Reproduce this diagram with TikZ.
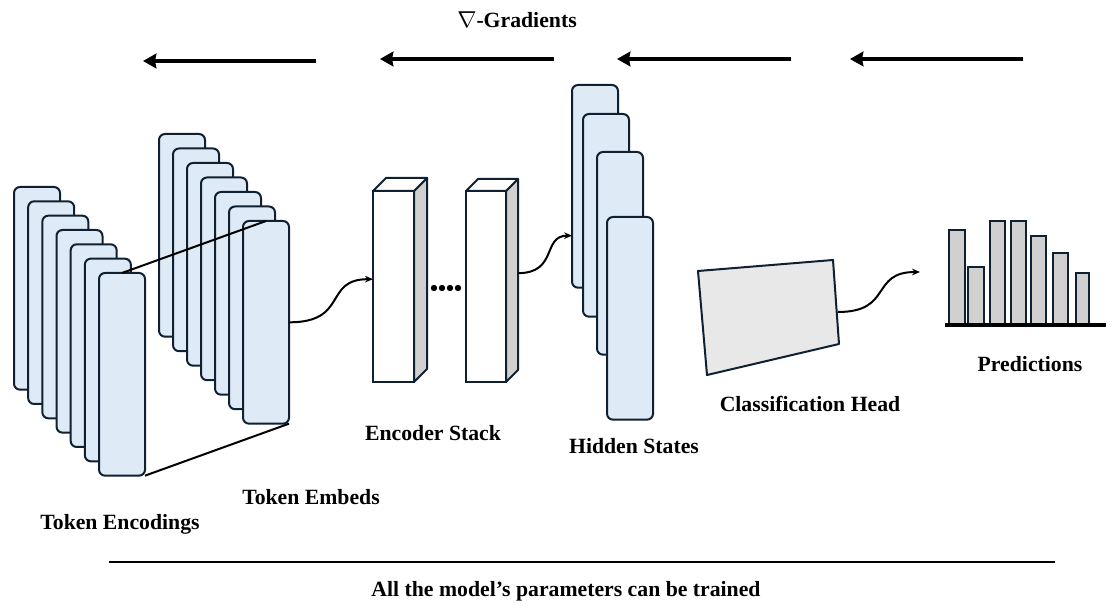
\documentclass[tikz,border=0pt]{standalone}
\usepackage{fontspec}
\setmainfont{Liberation Serif}
\usetikzlibrary{arrows.meta,calc}
\definecolor{tokfill}{HTML}{DEEAF6}
\definecolor{edgec}{HTML}{0F2030}
\definecolor{sidegray}{HTML}{D0D0D0}
\definecolor{headfill}{HTML}{E8E8E8}
\begin{document}
\begin{tikzpicture}[x=0.75pt,y=-0.75pt,
  tok/.style={draw=edgec, fill=tokfill, line width=1.5pt, rounded corners=4.5pt,
    minimum width=34.5pt, minimum height=152pt, anchor=north west, inner sep=0pt, outer sep=0pt},
  cubefront/.style={draw=edgec, fill=white, line width=1.5pt, minimum height=143.25pt,
    anchor=north west, inner sep=0pt, outer sep=0pt},
  cubeface/.style={draw=edgec, line width=1.5pt, line join=round},
  wire/.style={draw=black, line width=1.5pt},
  flow/.style={draw=black, line width=1.5pt, -{Stealth[length=6pt,width=5pt]}},
  grad/.style={draw=black, line width=3pt, -{Stealth[length=10pt,width=11pt,inset=1pt]}},
  bar/.style={draw=edgec, fill=sidegray, line width=1.5pt},
  lbl/.style={font=\fontsize{16.3}{19}\selectfont\bfseries, inner sep=0pt}]
\useasboundingbox (0,0) rectangle (1113,609);

% Token encodings
\foreach \i in {1,...,7}
  \node[tok] (te\i) at ({14+14.17*(\i-1)},{187+14.33*(\i-1)}) {};
% Token embeds
\foreach \i in {1,...,7}
  \node[tok] (tm\i) at ({159+14*(\i-1)},{134+14.5*(\i-1)}) {};
% projection lines
\draw[wire] (te7.north) -- (tm7.north);
\draw[wire] (te7.south east) -- (tm7.south east);

% Encoder stack
\node[cubefront, minimum width=30.75pt] (enc1) at (373,191) {};
\draw[cubeface, fill=sidegray] (enc1.north east) -- ++(13,-13) -- ++(0,191) -- (enc1.south east) -- cycle;
\draw[cubeface, fill=white] (enc1.north west) -- ++(13,-13) -- ++(41,0) -- (enc1.north east) -- cycle;
\node[cubefront, minimum width=30pt] (enc2) at (466,191) {};
\draw[cubeface, fill=sidegray] (enc2.north east) -- ++(12,-12) -- ++(0,191) -- (enc2.south east) -- cycle;
\draw[cubeface, fill=white] (enc2.north west) -- ++(12,-12) -- ++(40,0) -- (enc2.north east) -- cycle;
\foreach \x in {434,442,450,458}
  \fill (\x,288) circle[radius=2.4pt];

\draw[flow] (tm7.east) .. controls +(60,0) and +(-50,0) .. ([yshift=5.5pt]enc1.west);

% Hidden states
\node[tok] (hs1) at (572,85) {};
\node[tok] (hs2) at (583,114) {};
\node[tok] (hs3) at (597,152) {};
\node[tok] (hs4) at (607,217) {};
\draw[flow] ([xshift=9pt,yshift=10pt]enc2.east) .. controls +(40,0) and +(-30,0) .. ([yshift=-37pt]hs1.west);

% Classification head
\coordinate (h1) at (698,271);
\coordinate (h2) at (833,260);
\coordinate (h3) at (839,344);
\coordinate (h4) at (707,375);
\draw[cubeface, fill=headfill] (h1) -- (h2) -- (h3) -- (h4) -- cycle;
\coordinate (hout) at (838,312);
\coordinate (pin) at (920,272);
\draw[flow] (hout) .. controls +(55,0) and +(-50,0) .. (pin);

% Predictions bars
\foreach \l/\r/\t in {949/965/230, 968/984/267, 990/1005/221, 1011/1026/221, 1031/1046/236, 1053/1068/253, 1076/1089/273}
  \draw[bar] (\l,324) rectangle (\r,\t);
\draw[line width=2.6pt] (945,325) -- (1106,325);

% Gradient arrows
\coordinate (g1s) at (316,61); \coordinate (g1e) at (143,61);
\coordinate (g2s) at (554,59); \coordinate (g2e) at (380,59);
\coordinate (g3s) at (791,59); \coordinate (g3e) at (617,59);
\coordinate (g4s) at (1023,59); \coordinate (g4e) at (850,59);
\draw[grad] (g1s) -- (g1e);
\draw[grad] (g2s) -- (g2e);
\draw[grad] (g3s) -- (g3e);
\draw[grad] (g4s) -- (g4e);

% Bottom rule
\coordinate (r1) at (109,562); \coordinate (r2) at (1055,562);
\draw[line width=1.6pt] (r1) -- (r2);

% Labels
\node[lbl] (lgrad) at (517,20) {$\nabla$-Gradients};
\node[lbl] (lenc) at (120,524) {Token Encodings};
\node[lbl] (lemb) at (311,497) {Token Embeds};
\node[lbl] (lstack) at (433,433) {Encoder Stack};
\node[lbl] (lhid) at (634,446) {Hidden States};
\node[lbl] (lhead) at (810,404) {Classification Head};
\node[lbl] (lpred) at (1030,364) {Predictions};
\node[lbl] (lall) at (566,591) {All the model’s parameters can be trained};
\end{tikzpicture}
\end{document}
